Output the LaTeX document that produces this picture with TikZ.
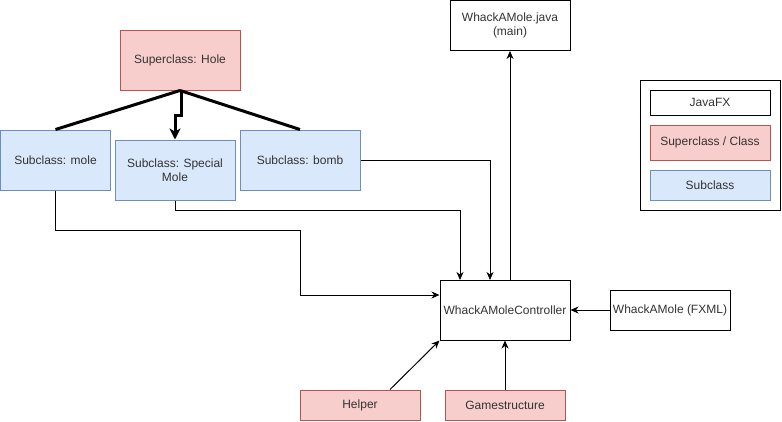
\documentclass[tikz,border=0pt]{standalone}
\usepackage{fontspec}
\setmainfont{Liberation Sans}
\usetikzlibrary{arrows.meta}
\definecolor{redfill}{HTML}{F8CECC}
\definecolor{redline}{HTML}{B85450}
\definecolor{bluefill}{HTML}{DAE8FC}
\definecolor{blueline}{HTML}{6C8EBF}
\definecolor{txt}{HTML}{333333}
\tikzset{
  box/.style={draw=black, fill=white, line width=1pt, inner sep=2pt, align=center,
    font=\fontsize{12}{14}\selectfont, text=txt},
  redbox/.style={box, draw=redline, fill=redfill},
  bluebox/.style={box, draw=blueline, fill=bluefill},
  conn/.style={line width=1pt, -{Stealth[length=8pt,width=7pt,inset=2.5pt]}},
  plain/.style={line width=3pt},
}
\begin{document}
\begin{tikzpicture}[x=1pt,y=-1pt]
\useasboundingbox (0,0) rectangle (782,421);
% nodes
\node[redbox, minimum width=120pt, minimum height=60pt] (hole) at (180,60) {Superclass: Hole};
\node[bluebox, minimum width=110pt, minimum height=60pt] (mole) at (55.5,160) {Subclass: mole};
\node[bluebox, minimum width=120pt, minimum height=60pt] (special) at (175,170) {Subclass: Special\\Mole};
\node[bluebox, minimum width=120pt, minimum height=60pt] (bomb) at (300,160) {Subclass: bomb};
\node[box, minimum width=120pt, minimum height=50pt] (java) at (510,25.5) {WhackAMole.java\\(main)};
\node[box, minimum width=130pt, minimum height=60pt] (ctrl) at (505,310) {WhackAMoleController};
\node[box, minimum width=120pt, minimum height=40pt] (fxml) at (670,310) {WhackAMole (FXML)};
\node[redbox, minimum width=120pt, minimum height=30pt] (helper) at (360,405) {Helper};
\node[redbox, minimum width=120pt, minimum height=30pt] (game) at (505,405) {Gamestructure};
% legend
\node[box, minimum width=140pt, minimum height=130pt] (legend) at (710,145) {};
\node[box, minimum width=120pt, minimum height=25pt] (lgjava) at (710,102.5) {JavaFX};
\node[redbox, minimum width=120pt, minimum height=35pt] (lgsuper) at (710,142.5) {Superclass / Class};
\node[bluebox, minimum width=120pt, minimum height=30pt] (lgsub) at (710,185) {Subclass};
% inheritance lines
\coordinate (hs) at (hole.south);
\draw[plain] (hs) -- (mole.north);
\draw[plain] (hs) -- (bomb.north);
\draw[plain, -{Stealth[length=11pt,width=11pt,inset=3pt]}] ([xshift=1pt]hs) -- ++(0,25) -| (special.north);
% connectors
\draw[conn] (mole.south) |- (300,230) -- (300,295) -- (ctrl.west |- 0,295);
\draw[conn] (special.south) |- (460,210) -- (460,280);
\draw[conn] (bomb.east) -| (490,280);
\draw[conn] (ctrl.north -| 510,0) -- (java.south -| 510,0);
\draw[conn] (fxml.west) -- (ctrl.east);
\draw[conn] (game.north) -- (ctrl.south);
\draw[conn] ([xshift=30pt]helper.north) -- (ctrl.south west);
\end{tikzpicture}
\end{document}
